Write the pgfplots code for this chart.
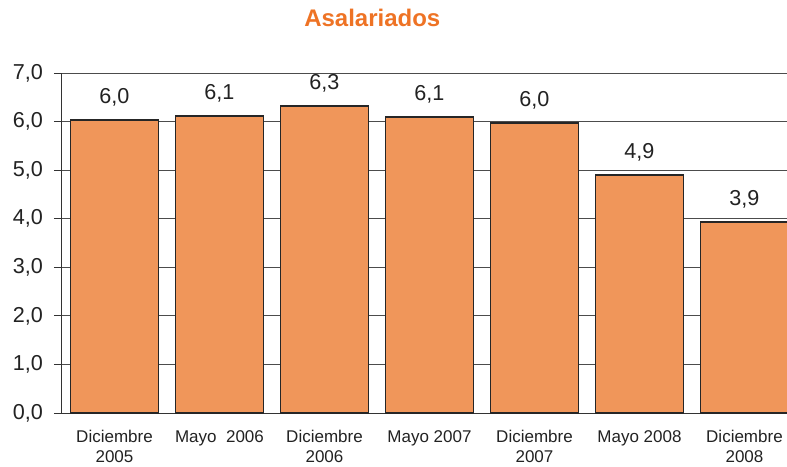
\documentclass[border=0pt]{standalone}
\usepackage{fontspec}
\setmainfont{Liberation Sans}
\usepackage{pgfplots}
\pgfplotsset{compat=1.18}
\definecolor{barfill}{HTML}{F0965A}
\definecolor{titleor}{HTML}{EE7325}
\definecolor{txt}{HTML}{222222}
\begin{document}
\begin{tikzpicture}[x=1pt,y=1pt]
\useasboundingbox (-62,-53) rectangle (725,413);
\begin{axis}[
  at={(0,0)}, anchor=south west,
  scale only axis, width=725pt, height=340pt,
  xmin=-0.5, xmax=6.405, ymin=0, ymax=7,
  axis x line*=bottom, axis y line*=left,
  axis line style={draw=black!80, line width=1pt},
  ybar, bar width=0.84, bar shift=0pt,
  ytick={0,1,...,7},
  ymajorgrids, grid style={draw=black!70, line width=1pt},
  xtick={0,1,...,6},
  xticklabels={{Diciembre\\2005},{Mayo\ \ 2006},{Diciembre\\2006},{Mayo 2007},{Diciembre\\2007},{Mayo 2008},{Diciembre\\2008}},
  major x tick style={draw=none},
  extra x ticks={-0.5,0.5,1.5,2.5,3.5,4.5,5.5},
  extra x tick labels={},
  extra x tick style={major tick length=6pt, tick style={draw=black!80, line width=1pt}, grid=none},
  major tick length=8pt,
  y tick style={draw=black!80, line width=1pt},
  tick align=outside,
  xticklabel style={font=\fontsize{17}{19.5}\selectfont, text=txt, align=center, anchor=north, inner sep=0pt, yshift=-9pt},
  yticklabel style={font=\fontsize{21.6}{24}\selectfont, text=txt, anchor=east, inner sep=0pt, xshift=-11pt},
  /pgf/number format/.cd, fixed, fixed zerofill, precision=1, use comma, assume math mode=true,
  /pgfplots/.cd,
  nodes near coords,
  every node near coord/.append style={font=\fontsize{21.6}{24}\selectfont, text=txt, anchor=south, inner sep=0pt, yshift=13pt},
  title={Asalariados},
  title style={at={(axis description cs:0.428,1)}, anchor=base, yshift=41pt, inner sep=0pt, font=\bfseries\fontsize{24}{28}\selectfont, text=titleor},
  clip=true,
]
\addplot[fill=barfill, draw=black!85, line width=1.5pt] coordinates {
  (0,6.03) (1,6.11) (2,6.32) (3,6.09) (4,5.97) (5,4.90) (6,3.93)
};
\end{axis}
\end{tikzpicture}
\end{document}
